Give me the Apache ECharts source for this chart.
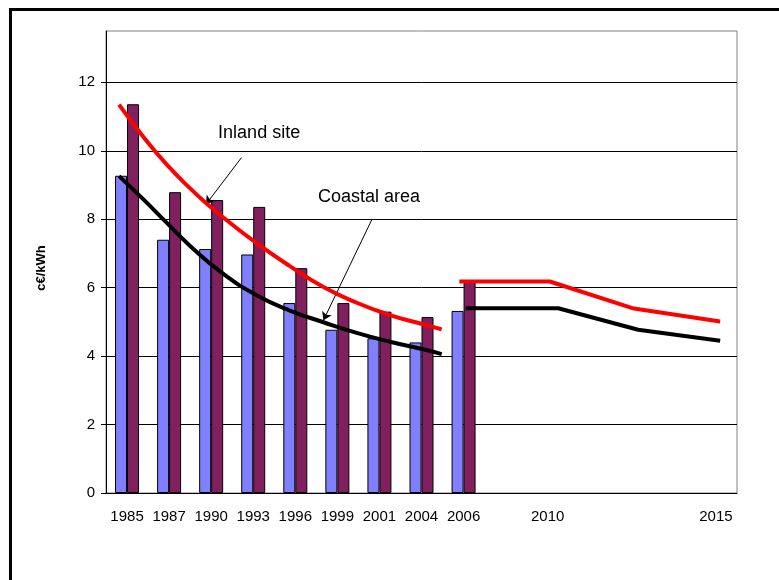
<!DOCTYPE html>
<html>
<head>
<meta charset="utf-8">
<script src="https://cdn.jsdelivr.net/npm/echarts@6/dist/echarts.min.js"></script>
<style>
html,body{margin:0;padding:0;background:#fff;}
#chart{width:779px;height:580px;}
</style>
</head>
<body>
<div id="chart"></div>
<script>
// ---- data ----
const categories = ['1985','1987','1990','1993','1996','1999','2001','2004','2006','','2010','','','','2015'];
const coastalBars = [9.27, 7.40, 7.13, 6.97, 5.55, 4.77, 4.52, 4.40, 5.32];
const inlandBars  = [11.36, 8.79, 8.56, 8.36, 6.57, 5.55, 5.30, 5.14, 6.17];
// trend curves: [category position, value]
const inlandCurve = [[-0.19,11.35],[0.39,10.4],[0.94,9.6],[1.5,8.9],[1.89,8.46],[2.29,8.05],[3.08,7.3],[3.87,6.63],[4.67,6.02],[5.46,5.56],[6.25,5.2],[7.04,4.93],[7.48,4.78]];
const coastalCurve = [[-0.19,9.26],[0.39,8.58],[0.94,7.9],[1.5,7.22],[2.29,6.4],[3.08,5.78],[3.87,5.33],[4.67,4.99],[5.46,4.68],[6.25,4.42],[7.04,4.2],[7.48,4.06]];
// outlook lines
const inlandOutlook  = [[7.9,6.18],[10.05,6.18],[12.05,5.39],[14.1,5.01]];
const coastalOutlook = [[8.05,5.40],[10.25,5.40],[12.15,4.77],[14.1,4.45]];

const FONT = 'Liberation Sans, Arial, sans-serif';
const chart = echarts.init(document.getElementById('chart'), null, {renderer:'canvas'});

const option = {
  animation: false,
  backgroundColor: '#fff',
  textStyle: {fontFamily: FONT},
  graphic: [{
    type: 'rect', silent: true, z: 100,
    shape: {x: 10.5, y: 9.5, width: 900, height: 700},
    style: {fill: 'none', stroke: '#000', lineWidth: 3}
  }],
  grid: {left: 106, right: 42, top: 31, bottom: 87, show: true, borderColor: '#808080', borderWidth: 1},
  xAxis: [{
    type: 'category', data: categories,
    axisLine: {lineStyle: {color: '#000', width: 1}},
    axisTick: {length: 5, lineStyle: {color: '#000'}},
    axisLabel: {interval: 0, color: '#000', fontSize: 15, margin: 16, fontFamily: FONT},
    splitLine: {show: false}
  }, {
    type: 'value', min: -0.5, max: 14.5, show: false
  }],
  yAxis: {
    type: 'value', min: 0, max: 13.5, interval: 2,
    name: 'c€/kWh', nameLocation: 'middle', nameGap: 58,
    nameTextStyle: {fontWeight: 'bold', fontSize: 13, color: '#000', fontFamily: FONT, padding: [0, 12, 0, 0]},
    axisLine: {show: true, onZero: false, lineStyle: {color: '#000', width: 1}},
    axisTick: {show: true, length: 5, lineStyle: {color: '#000', width: 1}},
    axisLabel: {fontSize: 15, color: '#000', margin: 11, showMaxLabel: false, fontFamily: FONT},
    splitLine: {lineStyle: {color: '#000', width: 1}, showMaxLine: false}
  },
  series: [{
    name: 'Coastal', type: 'bar', data: coastalBars, barWidth: 12, barGap: '0%',
    itemStyle: {color: '#8080FF', borderColor: '#000', borderWidth: 1}
  }, {
    name: 'Inland', type: 'bar', data: inlandBars, barWidth: 12, barGap: '0%',
    itemStyle: {color: '#80205F', borderColor: '#000', borderWidth: 1}
  }, {
    name: 'Coastal trend', type: 'line', xAxisIndex: 1, data: coastalCurve, smooth: 0.5,
    symbol: 'none', lineStyle: {color: '#000', width: 4}, z: 5
  }, {
    name: 'Inland trend', type: 'line', xAxisIndex: 1, data: inlandCurve, smooth: 0.5,
    symbol: 'none', lineStyle: {color: '#FF0000', width: 4}, z: 6,
    markLine: {
      silent: true, symbol: ['none', 'arrow'], symbolSize: 8,
      lineStyle: {color: '#000', width: 1, type: 'solid'},
      label: {show: false},
      data: [
        [{coord: [2.72, 9.80]}, {coord: [1.88, 8.44]}],
        [{coord: [5.82, 7.99]}, {coord: [4.67, 5.05]}]
      ]
    },
    markPoint: {
      silent: true, symbol: 'circle', symbolSize: 1,
      itemStyle: {color: 'rgba(0,0,0,0)'},
      label: {show: true, position: 'inside', color: '#000', fontSize: 18, fontFamily: FONT},
      data: [
        {coord: [3.14, 10.51], label: {formatter: 'Inland site'}},
        {coord: [5.75, 8.64], label: {formatter: 'Coastal area'}}
      ]
    }
  }, {
    name: 'Coastal outlook', type: 'line', xAxisIndex: 1, data: coastalOutlook,
    symbol: 'none', lineStyle: {color: '#000', width: 4}, z: 5
  }, {
    name: 'Inland outlook', type: 'line', xAxisIndex: 1, data: inlandOutlook,
    symbol: 'none', lineStyle: {color: '#FF0000', width: 4}, z: 6
  }]
};
chart.setOption(option);
</script>
</body>
</html>
